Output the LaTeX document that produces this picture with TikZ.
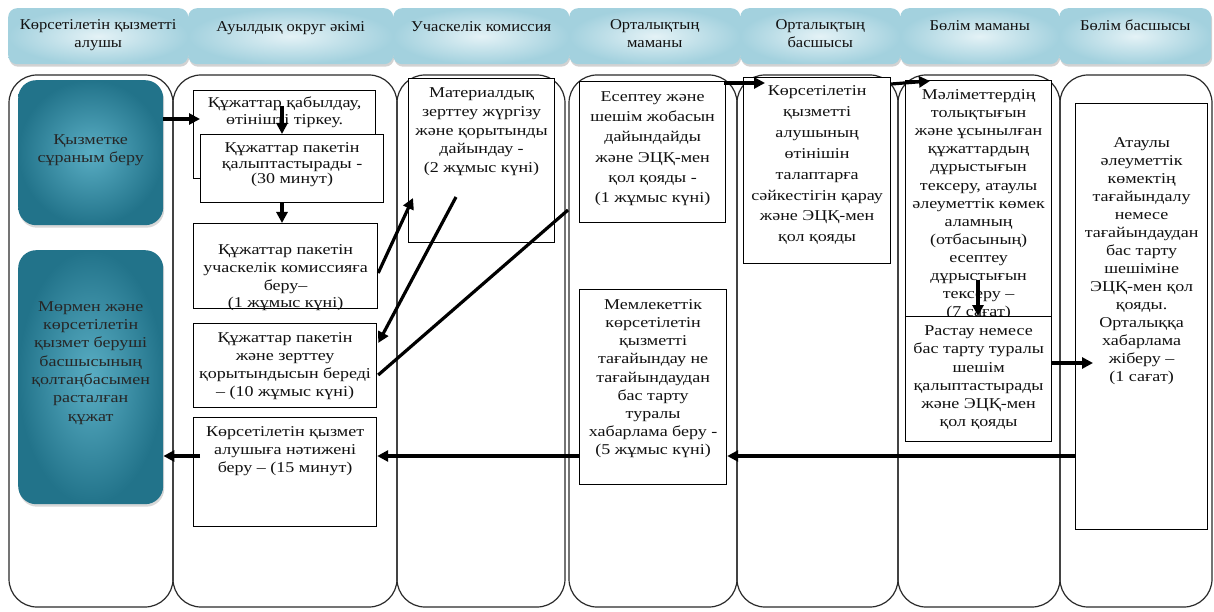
\documentclass[tikz,border=0pt]{standalone}
\usepackage{fontspec}
\setmainfont{Liberation Serif}[FakeStretch=1.2]
\newfontfamily\hdfont{Liberation Serif}[FakeStretch=1.1]
\usetikzlibrary{arrows.meta,calc,shadows}
\definecolor{hdin}{HTML}{E4F2F6}
\definecolor{hdout}{HTML}{A3D1DE}
\definecolor{tlin}{HTML}{5AAEC4}
\definecolor{tlout}{HTML}{22738A}
\definecolor{lanecol}{HTML}{2A2A2A}
\definecolor{txtcol}{HTML}{111111}
% #1 width, #2 height, #3 first baseline from top, #4 line spacing, #5 lines
\newcommand{\bxt}[5]{\parbox[c][#2pt][t]{#1pt}{\fontsize{15}{#4}\selectfont\vspace*{\dimexpr #3pt-0.7\baselineskip\relax}\noindent\makebox[#1pt]{\begin{tabular}[t]{@{}c@{}}#5\end{tabular}}}}
\newcommand{\hbxt}[5]{\parbox[c][#2pt][t]{#1pt}{\hdfont\fontsize{15}{#4}\selectfont\vspace*{\dimexpr #3pt-0.7\baselineskip\relax}\noindent\makebox[#1pt]{\begin{tabular}[t]{@{}c@{}}#5\end{tabular}}}}
\tikzset{
  lane/.style={draw=lanecol,line width=1.2pt,rounded corners=28pt},
  hdr/.style={anchor=north west,inner sep=0pt,rounded corners=9pt,inner color=hdin,outer color=hdout,
    drop shadow={shadow xshift=1pt,shadow yshift=-2.5pt,fill=black!35},text=txtcol},
  tealbox/.style={anchor=north west,inner sep=0pt,rounded corners=18pt,inner color=tlin,outer color=tlout,
    drop shadow={shadow xshift=1pt,shadow yshift=-2.5pt,fill=black!30},text=black!85},
  wbox/.style={anchor=north west,inner sep=0pt,draw=black,line width=1.2pt,fill=white,text=txtcol},
  arr/.style={line width=3.2pt,-{Triangle[length=11pt,width=11pt]}},
  thk/.style={line width=3.2pt},
}
\begin{document}
\begin{tikzpicture}[x=1pt,y=-1pt]
\useasboundingbox (0,0) rectangle (1214,612);
\fill[white] (0,0) rectangle (1214,612);
% lanes
\draw[lane] (9,75) rectangle (173,607);
\draw[lane] (173,75) rectangle (397,607);
\draw[lane] (397,75) rectangle (565,607);
\draw[lane] (569,75) rectangle (737,607);
\draw[lane] (737,75) rectangle (898,607);
\draw[lane] (898,75) rectangle (1060,607);
\draw[lane] (1060,75) rectangle (1212,607);
% headers
\node[hdr] (h1) at (8,8) {\hbxt{180}{56}{21}{18}{Көрсетілетін қызметті\\алушы}};
\node[hdr] (h2) at (188,8) {\hbxt{205}{56}{23}{18}{Ауылдық округ әкімі}};
\node[hdr] (h3) at (393,8) {\hbxt{176}{56}{23}{18}{Учаскелік комиссия}};
\node[hdr] (h4) at (569,8) {\hbxt{171}{56}{21}{18}{Орталықтың\\маманы}};
\node[hdr] (h5) at (740,8) {\hbxt{160}{56}{21}{18}{Орталықтың\\басшысы}};
\node[hdr] (h6) at (900,8) {\hbxt{159}{56}{22}{18}{Бөлім маманы}};
\node[hdr] (h7) at (1059,8) {\hbxt{152}{56}{22}{18}{Бөлім басшысы}};
% lane 1
\node[tealbox] (nA) at (18,80) {\bxt{145}{145}{64}{18}{Қызметке\\сұраным беру}};
\node[tealbox] (nB) at (18,250) {\bxt{145}{254}{61}{18.3}{Мөрмен және\\көрсетілетін\\қызмет беруші\\басшысының\\қолтаңбасымен\\расталған\\құжат}};
% lane 2
\node[wbox] (n2a) at (193,90) {\bxt{182}{88}{17}{17}{Құжаттар қабылдау,\\өтінішті тіркеу.}};
\node[wbox] (n2b) at (200,134) {\bxt{183}{68}{18}{15.5}{Құжаттар пакетін\\қалыптастырады -\\(30 минут)}};
\node[wbox] (n2c) at (193,223) {\bxt{184}{85}{31}{17.7}{Құжаттар пакетін\\учаскелік комиссияға\\беру–\\(1 жұмыс күні)}};
\node[wbox] (n2d) at (193,323) {\bxt{183}{84}{19}{18}{Құжаттар пакетін\\және зерттеу\\қорытындысын береді\\– (10 жұмыс күні)}};
\node[wbox] (n2e) at (193,417) {\bxt{183}{109}{19}{18}{Көрсетілетін қызмет\\алушыға нәтижені\\беру – (15 минут)}};
% lane 3
\node[wbox] (n3a) at (408,78) {\bxt{146}{164}{19}{18.8}{Материалдық\\зерттеу жүргізу\\және қорытынды\\дайындау -\\(2 жұмыс күні)}};
% lane 4
\node[wbox] (n4a) at (579,81) {\bxt{146}{141}{20}{20.2}{Есептеу және\\шешім жобасын\\дайындайды\\және ЭЦҚ-мен\\қол қояды -\\(1 жұмыс күні)}};
\node[wbox] (n4b) at (579,289) {\bxt{147}{195}{20}{18.1}{Мемлекеттік\\көрсетілетін\\қызметті\\тағайындау не\\тағайындаудан\\бас тарту\\туралы\\хабарлама беру -\\(5 жұмыс күні)}};
% lane 5
\node[wbox] (n5a) at (743,77) {\bxt{147}{186}{18}{20.9}{Көрсетілетін\\қызметті\\алушының\\өтінішін\\талаптарға\\сәйкестігін қарау\\және ЭЦҚ-мен\\қол қояды}};
% lane 6
\node[wbox] (n6a) at (905,80) {\bxt{146}{250}{19}{18.1}{Мәліметтердің\\толықтығын\\және ұсынылған\\құжаттардың\\дұрыстығын\\тексеру, атаулы\\әлеуметтік көмек\\аламның\\(отбасының)\\есептеу\\дұрыстығын\\тексеру –\\(7 сағат)}};
\node[wbox] (n6b) at (905,316) {\bxt{146}{125}{19}{18.2}{Растау немесе\\бас тарту туралы\\шешім\\қалыптастырады\\және ЭЦҚ-мен\\қол қояды}};
% lane 7
\node[wbox] (n7a) at (1075,103) {\bxt{132}{426}{44}{18}{Атаулы\\әлеуметтік\\көмектің\\тағайындалу\\немесе\\тағайындаудан\\бас тарту\\шешіміне\\ЭЦҚ-мен қол\\қояды.\\Орталыққа\\хабарлама\\жіберу –\\(1 сағат)}};
% connectors
\draw[arr] ($(nA.north east)+(0,39)$) -- ($(n2a.north west)+(7,29)$);
\draw[arr] ($(n2b.north west)+(82,-28)$) -- ($(n2b.north west)+(82,0)$);
\draw[arr] ($(n2b.south west)+(82,0)$) -- ($(n2c.north west)+(89,0)$);
\draw[arr] ($(n2c.north east)+(0,50)$) -- ($(n3a.north west)+(5,120)$);
\draw[arr] ($(n3a.north west)+(48,119)$) -- ($(n2d.north east)+(1,20)$);
\draw[thk] ($(n4a.north west)+(-11,129)$) -- ($(n2d.north east)+(1,52)$);
\draw[arr] ($(n4a.north east)+(-2,2)$) -- ($(n5a.north west)+(22,6)$);
\draw[arr] ($(n5a.north east)+(0,7)$) -- ($(n6a.north west)+(25,1)$);
\draw[arr] ($(n6b.north west)+(73,-36)$) -- ($(n6b.north west)+(73,0)$);
\draw[arr] ($(n6b.north east)+(0,47)$) -- ($(n7a.north west)+(18,260)$);
\draw[arr] ($(n7a.north west)+(0,353)$) -- ($(n4b.north east)+(0,167)$);
\draw[arr] ($(n4b.north west)+(0,167)$) -- ($(n2e.north east)+(0,39)$);
\draw[arr] ($(n2e.north west)+(7,39)$) -- ($(nB.north east)+(0,206)$);
\end{tikzpicture}
\end{document}
